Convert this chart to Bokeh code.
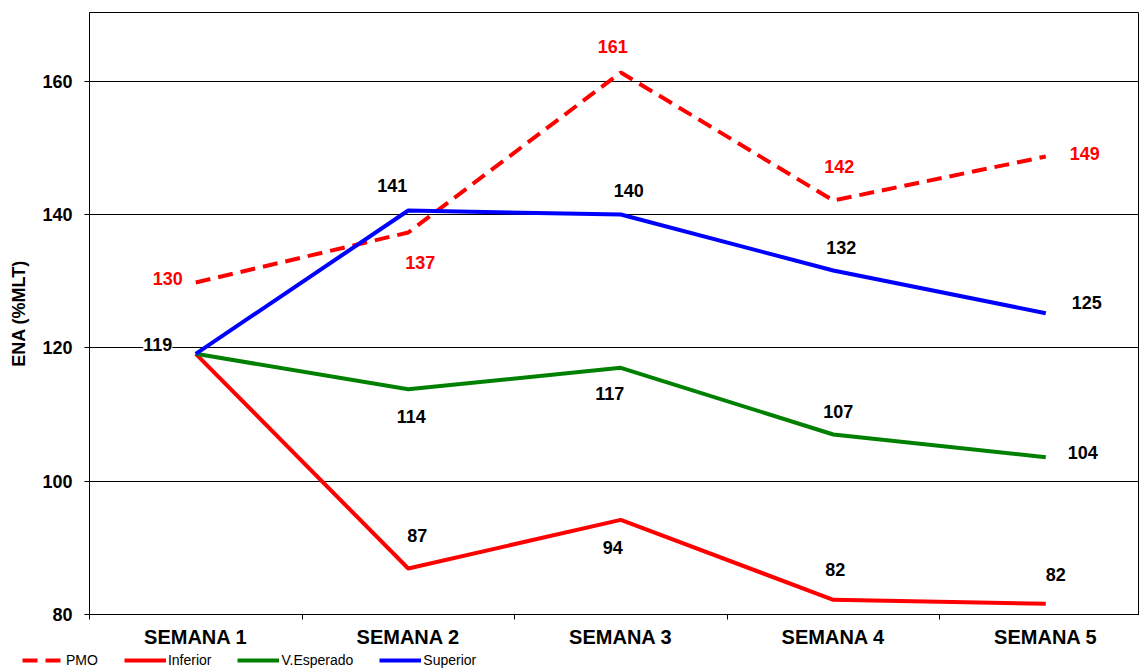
from bokeh.plotting import figure
from bokeh.layouts import column, row
from bokeh.models import ColumnDataSource, Range1d, FixedTicker, LabelSet, Legend, LegendItem
from bokeh.core.properties import value
from bokeh.embed import file_html
from bokeh.resources import INLINE

semanas = ["SEMANA 1", "SEMANA 2", "SEMANA 3", "SEMANA 4", "SEMANA 5"]
pmo = [129.8, 137.3, 161.3, 142.1, 148.7]
inferior = [119.1, 86.9, 94.2, 82.2, 81.6]
esperado = [119.1, 113.8, 117.0, 107.0, 103.6]
superior = [119.1, 140.6, 140.0, 131.6, 125.2]
y_ticks = [80, 100, 120, 140, 160]

# which labels are displayed (first week shows a single shared "119")
show_pmo = [1, 1, 1, 1, 1]
show_inf = [0, 1, 1, 1, 1]
show_esp = [0, 1, 1, 1, 1]
show_sup = [1, 1, 1, 1, 1]

# label offsets in screen pixels (dx right, dy up)
off_pmo = [(-28, 4), (12, -30), (-8, 26), (6, 34), (39, 3)]
off_inf = [(0, 0), (9, 33), (-8, -28), (2, 30), (10, 29)]
off_esp = [(0, 0), (3, -27), (-11, -26), (5, 23), (37, 5)]
off_sup = [(-38, 9), (-16, 25), (8, 24), (8, 23), (41, 11)]

FONT = "Liberation Sans"
xs = list(range(len(semanas)))

p = figure(width=1139, height=650, output_backend="svg", toolbar_location=None,
           x_range=Range1d(-0.5, 4.441), y_range=Range1d(80, 170.3),
           min_border_left=89, min_border_top=12, min_border_right=0, min_border_bottom=35)
p.outline_line_color = "black"
p.outline_line_width = 1
p.background_fill_color = "white"
p.border_fill_color = "white"

# axes
p.xaxis.ticker = FixedTicker(ticks=xs, minor_ticks=[-0.5, 0.5, 1.5, 2.5, 3.5, 4.5])
p.xaxis.major_label_overrides = {i: s for i, s in enumerate(semanas)}
p.xaxis.major_tick_out = 0
p.xaxis.major_tick_in = 0
p.xaxis.minor_tick_out = 5
p.xaxis.minor_tick_in = 0
p.xaxis.minor_tick_line_color = "black"
p.xaxis.axis_line_color = "black"
p.xaxis.major_label_text_font = FONT
p.xaxis.major_label_text_font_style = "bold"
p.xaxis.major_label_text_font_size = "20px"
p.xaxis.major_label_text_color = "black"
p.xaxis.major_label_standoff = 6

p.yaxis.ticker = FixedTicker(ticks=y_ticks)
p.yaxis.minor_tick_line_color = None
p.yaxis.major_tick_out = 5
p.yaxis.major_tick_in = 0
p.yaxis.major_tick_line_color = "black"
p.yaxis.axis_line_color = "black"
p.yaxis.major_label_text_font = FONT
p.yaxis.major_label_text_font_style = "bold"
p.yaxis.major_label_text_font_size = "18px"
p.yaxis.major_label_text_color = "black"
p.yaxis.major_label_standoff = 12
p.yaxis.axis_label = "ENA (%MLT)"
p.yaxis.axis_label_text_font = FONT
p.yaxis.axis_label_text_font_style = "bold"
p.yaxis.axis_label_text_font_size = "18px"
p.yaxis.axis_label_text_color = "black"
p.yaxis.axis_label_standoff = 10

p.xgrid.grid_line_color = None
p.ygrid.ticker = FixedTicker(ticks=y_ticks)
p.ygrid.grid_line_color = "black"
p.ygrid.grid_line_width = 1

series = [
    ("PMO", pmo, "#FF0000", "15 8", show_pmo, off_pmo, "#FF0000"),
    ("Inferior", inferior, "#FF0000", "solid", show_inf, off_inf, "black"),
    ("V.Esperado", esperado, "#008000", "solid", show_esp, off_esp, "black"),
    ("Superior", superior, "#0000FF", "solid", show_sup, off_sup, "black"),
]

for name, vals, color, dash, show, offs, tcolor in series:
    p.line(xs, vals, line_color=color, line_width=4, line_dash=dash, line_cap="butt")

for name, vals, color, dash, show, offs, tcolor in series:
    src = ColumnDataSource(dict(
        x=[x for x, s in zip(xs, show) if s],
        y=[v for v, s in zip(vals, show) if s],
        t=[f"{v:.0f}" for v, s in zip(vals, show) if s],
        dx=[o[0] for o, s in zip(offs, show) if s],
        dy=[o[1] for o, s in zip(offs, show) if s],
    ))
    lbl = LabelSet(x="x", y="y", text="t", source=src, x_offset="dx", y_offset="dy",
                   text_align="center", text_baseline="middle",
                   text_font=value(FONT), text_font_style="bold", text_font_size="18px",
                   text_color=tcolor, background_fill_color="white")
    p.add_layout(lbl)

# legend strip below the chart (series drawn outside its visible range; only the legend shows)
lg = figure(width=1139, height=20, output_backend="svg", toolbar_location=None,
            x_axis_location=None, y_axis_location=None,
            x_range=Range1d(100, 101), y_range=Range1d(0, 1),
            min_border_left=0, min_border_right=0, min_border_top=0, min_border_bottom=0)
try:
    lg.frame_align = False
except Exception:
    pass
lg.grid.grid_line_color = None
lg.outline_line_color = None
items = []
for name, vals, color, dash, show, offs, tcolor in series:
    r = lg.line(xs, vals, line_color=color, line_width=4, line_dash=dash, line_cap="butt")
    items.append(LegendItem(label=name, renderers=[r]))
legend = Legend(items=items, orientation="horizontal", location=(22, 2),
                glyph_width=42, glyph_height=14, label_height=14, label_standoff=2,
                spacing=26, padding=0, margin=0, border_line_color=None,
                background_fill_alpha=0,
                label_text_font=FONT, label_text_font_size="14px", label_text_color="black")
lg.add_layout(legend, "center")

open("out.html", "w").write(file_html(column(p, row(lg, spacing=0), spacing=0), INLINE))
